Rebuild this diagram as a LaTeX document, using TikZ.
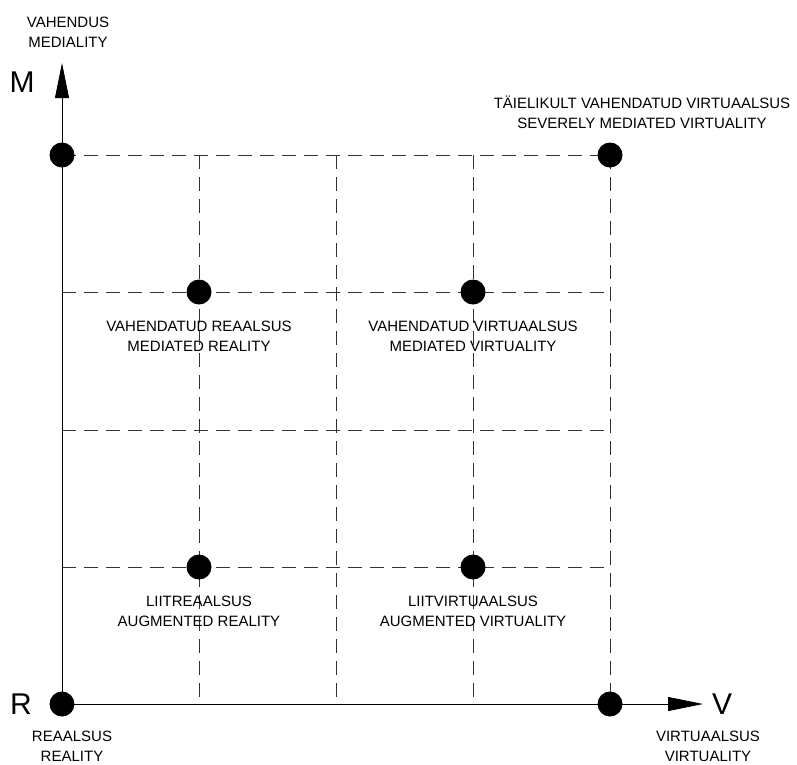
\documentclass[tikz,border=0pt]{standalone}
\usepackage{fontspec}
\setmainfont{Liberation Sans}
\usetikzlibrary{arrows.meta}
\tikzset{
  gridline/.style={draw=black!80, line width=0.8pt, dash pattern=on 14pt off 8pt},
  axisline/.style={draw=black, line width=0.8pt},
  dotnode/.style={circle, fill=black, inner sep=0pt, minimum size=25pt},
  lbl/.style={font=\fontsize{15}{20}\selectfont, align=center, inner sep=0pt},
  axlbl/.style={font=\fontsize{30}{30}\selectfont, inner sep=0pt},
  axtip/.style={-{Triangle[length=35pt,width=14pt]}}
}
\begin{document}
\begin{tikzpicture}[x=1pt,y=-1pt]
\useasboundingbox (0,0) rectangle (797,764);
% grid coordinates
\foreach \i/\x in {0/62,1/199,2/336,3/473,4/610}{
  \foreach \j/\y in {0/704,1/567,2/430,3/292,4/155}{
    \coordinate (g\i\j) at (\x,\y);
  }
}
\coordinate (mtip) at (62,63);
\coordinate (vtip) at (703,704);
% dashed grid
\foreach \j in {1,2,3,4}{
  \draw[gridline] (g0\j) -- (g4\j);
}
\foreach \i in {1,2,3,4}{
  \draw[gridline] (g\i4) -- (g\i0);
}
% axes
\draw[axisline, axtip] (g00) -- (mtip);
\draw[axisline, axtip] (g00) -- (vtip);
% dots
\node[dotnode] (rdot) at (g00) {};
\node[dotnode] (mdot) at (g04) {};
\node[dotnode] (vdot) at (g40) {};
\node[dotnode] (svdot) at (g44) {};
\node[dotnode] (mrdot) at (g13) {};
\node[dotnode] (mvdot) at (g33) {};
\node[dotnode] (ardot) at (g11) {};
\node[dotnode] (avdot) at (g31) {};
% axis letters
\node[axlbl] (mlab) at (22,82) {M};
\node[axlbl] (rlab) at (21,704) {R};
\node[axlbl] (vlab) at (722,704) {V};
% labels
\node[lbl] (medlab) at (68,32.5) {VAHENDUS\\MEDIALITY};
\node[lbl] (sevlab) at (642,112) {TÄIELIKULT VAHENDATUD VIRTUAALSUS\\SEVERELY MEDIATED VIRTUALITY};
\node[lbl] (reallab) at (72,746.5) {REAALSUS\\REALITY};
\node[lbl] (virtlab) at (708,746.5) {VIRTUAALSUS\\VIRTUALITY};
\node[lbl] (mrlab) at (199,336) {VAHENDATUD REAALSUS\\MEDIATED REALITY};
\node[lbl] (mvlab) at (473,336) {VAHENDATUD VIRTUAALSUS\\MEDIATED VIRTUALITY};
\node[lbl] (arlab) at (199,611) {LIITREAALSUS\\AUGMENTED REALITY};
\node[lbl] (avlab) at (473,611) {LIITVIRTUAALSUS\\AUGMENTED VIRTUALITY};
\end{tikzpicture}
\end{document}
